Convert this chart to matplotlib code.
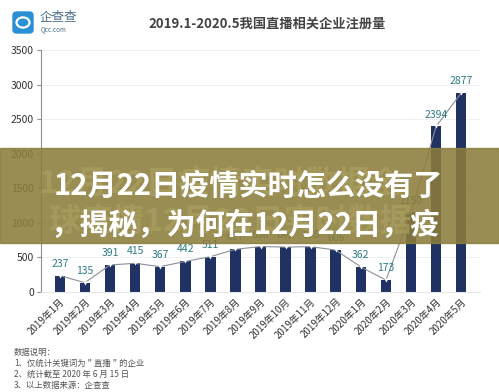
import matplotlib
matplotlib.use("Agg")
import matplotlib.pyplot as plt
from matplotlib.patches import Rectangle, FancyBboxPatch, Circle

plt.rcParams['font.family'] = ['Noto Sans CJK SC', 'DejaVu Sans']

months = ['2019年1月', '2019年2月', '2019年3月', '2019年4月', '2019年5月', '2019年6月',
          '2019年7月', '2019年8月', '2019年9月', '2019年10月', '2019年11月', '2019年12月',
          '2020年1月', '2020年2月', '2020年3月', '2020年4月', '2020年5月']
counts = [237, 135, 391, 415, 367, 442, 511, 617, 658, 649, 656, 606, 362, 173, 1150, 2394, 2877]
yticks = [0, 500, 1000, 1500, 2000, 2500, 3000, 3500]

title = '2019.1-2020.5我国直播相关企业注册量'
notes = ['数据说明：', '1、仅统计关键词为＂直播＂的企业', '2、统计截至 2020 年 6 月 15 日', '3、以上数据来源：企查查']
banner_lines = ['12月22日疫情实时怎么没有了', '，揭秘，为何在12月22日，疫']
ghost_lines = ['12月22日疫情实时数据全', '球疫情12月22日实时数据']

W, H = 499, 392
fig = plt.figure(figsize=(W / 100, H / 100), dpi=100)
fig.patch.set_facecolor('white')

ax = fig.add_axes([41 / W, 1 - 292 / H, (480 - 41) / W, (292 - 50) / H])
x = list(range(len(months)))
ax.bar(x, counts, width=0.42, color='#1f3263', zorder=2)
ax.plot(x, counts, color='#8a8f99', lw=0.8, zorder=3,
        marker='v', markersize=3, markerfacecolor='white', markeredgewidth=0)
for xi, v in zip(x, counts):
    ax.annotate(str(v), (xi, v), xytext=(0, 5), textcoords='offset points',
                ha='center', va='bottom', fontsize=7.5, color='#2c7a85')

ax.set_xlim(-0.75, len(months) - 0.25)
ax.set_ylim(0, 3500)
ax.set_yticks(yticks)
ax.set_yticklabels([str(t) for t in yticks], fontsize=7.5, color='#333333')
ax.set_xticks(x)
ax.set_xticklabels(months, rotation=45, ha='right', rotation_mode='anchor',
                   fontsize=7, color='#333333')
ax.tick_params(axis='x', length=0, pad=3)
ax.tick_params(axis='y', length=3, color='#8a8f99', pad=2)
ax.grid(axis='y', color='#eef0f3', lw=0.7, zorder=0)
for s in ['top', 'right']:
    ax.spines[s].set_visible(False)
ax.spines['left'].set_color('#8a8f99')
ax.spines['bottom'].set_color('#e6e8ec')

fig.text(0.535, 1 - 24 / H, title, ha='center', va='center', fontsize=9.5,
         fontweight='bold', color='#444444')

# logo
fig.patches.append(FancyBboxPatch((13 / W, 1 - 33 / H), 20 / W, 21 / H,
                                  boxstyle='round,pad=0,rounding_size=0.008',
                                  transform=fig.transFigure, color='#2b8fd6'))
fig.patches.append(Circle((23 / W, 1 - 22.5 / H), 6.5 / W, transform=fig.transFigure,
                          fill=False, ec='white', lw=1.6))
fig.text(40 / W, 1 - 17 / H, '企查查', fontsize=9, color='#4a6c8c', va='center')
fig.text(41 / W, 1 - 29 / H, 'Qcc.com', fontsize=4.5, color='#4a6c8c', va='center')

y0 = 1 - 352 / H
for i, line in enumerate(notes):
    fig.text(14 / W, y0 - i * 11.3 / H, line, fontsize=6, color='#555555', va='center')

# overlay banner
fig.patches.append(Rectangle((0, 1 - 243 / H), 1, 95 / H, transform=fig.transFigure,
                             color='#8c7d3c', alpha=0.88, zorder=5))
fig.text(38 / W, 1 - 184 / H, ghost_lines[0], fontsize=23, fontweight='bold',
         color='#aea262', alpha=0.6, va='center', zorder=6)
fig.text(48 / W, 1 - 222 / H, ghost_lines[1], fontsize=23, fontweight='bold',
         color='#aea262', alpha=0.6, va='center', zorder=6)
fig.text(54 / W, 1 - 186 / H, banner_lines[0], fontsize=21, fontweight='bold',
         color='white', va='center', zorder=7)
fig.text(50 / W, 1 - 225 / H, banner_lines[1], fontsize=21, fontweight='bold',
         color='white', va='center', zorder=7)

fig.savefig('out.png', dpi=100)
